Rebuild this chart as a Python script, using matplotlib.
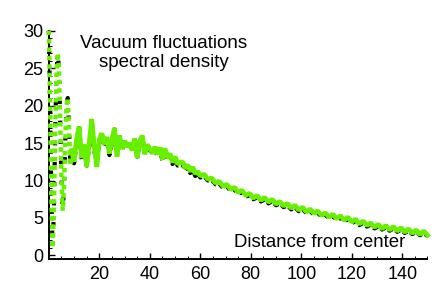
import numpy as np
import matplotlib
matplotlib.use("Agg")
import matplotlib.pyplot as plt
from matplotlib.ticker import MultipleLocator

plt.rcParams['font.family'] = ['Liberation Sans', 'DejaVu Sans']

# --- data -------------------------------------------------------------
x_head = [0, 0.5, 1, 1.5, 2, 2.5, 3, 3.5, 4, 4.5, 5, 5.5, 6, 6.5, 7, 7.5, 8, 8.5, 9]
y_head = [30, 20, 8, 1, 6, 16, 24, 27, 25, 18, 10, 6, 9, 15, 20, 21, 17, 12, 14]

x_mid = list(range(9, 61))
y_mid = [14, 12.5, 15.5, 17.2, 13, 14.8, 11.8, 15, 18.2, 14.5, 11.8, 15.5, 16.3,
         14.8, 15.8, 13.6, 15.5, 17, 13.2, 16, 14.2, 15.3, 14.5, 15, 14, 15.6,
         13, 15.2, 16, 13.5, 14.8, 14.2, 13.6, 14.5, 13.5, 14.4, 12.8, 14.3, 13,
         13.6, 12.4, 13.2, 12.2, 12.4, 12.5, 11.6, 12.1, 11.2, 11.8, 10.9, 11.2, 10.6]

x_tail = [61.5 + 1.5 * i for i in range(60)]
y_tail = [10.85, 10.15, 10.35, 9.65, 9.9, 9.2, 9.5, 8.8, 9.1, 8.4, 8.7, 8.0, 8.3,
          7.65, 8.0, 7.35, 7.75, 7.1, 7.5, 6.85, 7.2, 6.6, 6.95, 6.3, 6.7, 6.05,
          6.45, 5.8, 6.2, 5.6, 5.95, 5.35, 5.7, 5.1, 5.5, 4.9, 5.3, 4.7, 5.1, 4.45,
          4.85, 4.2, 4.6, 4.0, 4.35, 3.75, 4.15, 3.55, 4.0, 3.4, 3.85, 3.25, 3.7,
          3.1, 3.55, 2.95, 3.4, 2.8, 3.25, 2.7]

y_black_mid = [13.8, 12.3, 15.2, 17.0, 12.8, 14.5, 12.0, 14.6, 17.8, 14.0, 12.2,
               15.0, 16.0, 14.5, 15.4, 13.4, 15.0, 16.8, 13.6, 15.6, 14.0, 15.0,
               14.8, 14.6, 14.2, 15.3, 13.2, 14.8, 15.7, 13.8, 14.5, 14.0, 13.9,
               14.2, 13.3, 14.1, 12.7, 14.0, 12.8, 13.3, 12.2, 12.9, 12.0, 12.2,
               12.2, 11.3, 11.8, 11.0, 11.5, 10.6, 11.0, 10.4]
y_black_tail = [10.6, 10.0, 10.1, 9.5, 9.6, 9.0, 9.25, 8.6, 8.85, 8.2, 8.45, 7.85,
                8.05, 7.5, 7.75, 7.2, 7.5, 6.95, 7.25, 6.7, 6.95, 6.45, 6.7, 6.15,
                6.45, 5.9, 6.2, 5.65, 5.95, 5.45, 5.7, 5.2, 5.45, 4.95, 5.25, 4.75,
                5.05, 4.55, 4.85, 4.3, 4.6, 4.05, 4.35, 3.85, 4.1, 3.6, 3.9, 3.45,
                3.75, 3.3, 3.6, 3.15, 3.45, 3.0, 3.3, 2.85, 3.15, 2.7, 3.0, 2.6]

x_rest = x_mid + x_tail
y_green_rest = y_mid + y_tail
y_black_rest = y_black_mid + y_black_tail

x_ticks = [20, 40, 60, 80, 100, 120, 140]
y_ticks = [0, 5, 10, 15, 20, 25, 30]

GREEN = '#66f000'

# --- figure -----------------------------------------------------------
fig = plt.figure(figsize=(4.36, 2.97), dpi=100)
ax = fig.add_axes([0.112, 0.128, 0.9805 - 0.112, 0.897 - 0.128])

# black series (mostly hidden under the green one)
ax.plot(x_head, y_head, color='black', lw=3.0, dashes=(0.8, 4.0),
        dash_capstyle='butt', clip_on=False, zorder=2)
ax.plot(x_rest, y_black_rest, color='black', lw=3.0, dashes=(1.2, 1.0),
        dash_capstyle='butt', clip_on=False, zorder=2)
# green series
ax.plot(x_head, y_head, color=GREEN, lw=3.2, dashes=(1.0, 0.9),
        dash_capstyle='butt', dash_joinstyle='bevel', clip_on=False, zorder=3)
ax.plot(x_rest, y_green_rest, color=GREEN, lw=3.4, solid_joinstyle='bevel',
        clip_on=False, zorder=3)

ax.set_xlim(0, 150)
ax.set_ylim(-0.47, 30)
ax.set_xticks(x_ticks)
ax.set_yticks(y_ticks)
ax.xaxis.set_minor_locator(MultipleLocator(5))
ax.yaxis.set_minor_locator(MultipleLocator(1))

for s in ['top', 'right']:
    ax.spines[s].set_visible(False)
for s in ['left', 'bottom']:
    ax.spines[s].set_linewidth(1.4)
    ax.spines[s].set_color('black')

ax.tick_params(which='major', direction='in', length=4, width=1.0,
               labelsize=13, pad=5, colors='black')
ax.tick_params(which='minor', direction='in', length=2, width=0.7)
ax.tick_params(axis='y', pad=4)

ax.text(0.303, 0.9015, 'Vacuum fluctuations\nspectral density',
        transform=ax.transAxes, ha='center', va='center', fontsize=13.5,
        linespacing=1.2)
ax.text(0.9406, 0.070, 'Distance from center', transform=ax.transAxes,
        ha='right', va='center', fontsize=13.4)

fig.savefig('out.png', dpi=100)
